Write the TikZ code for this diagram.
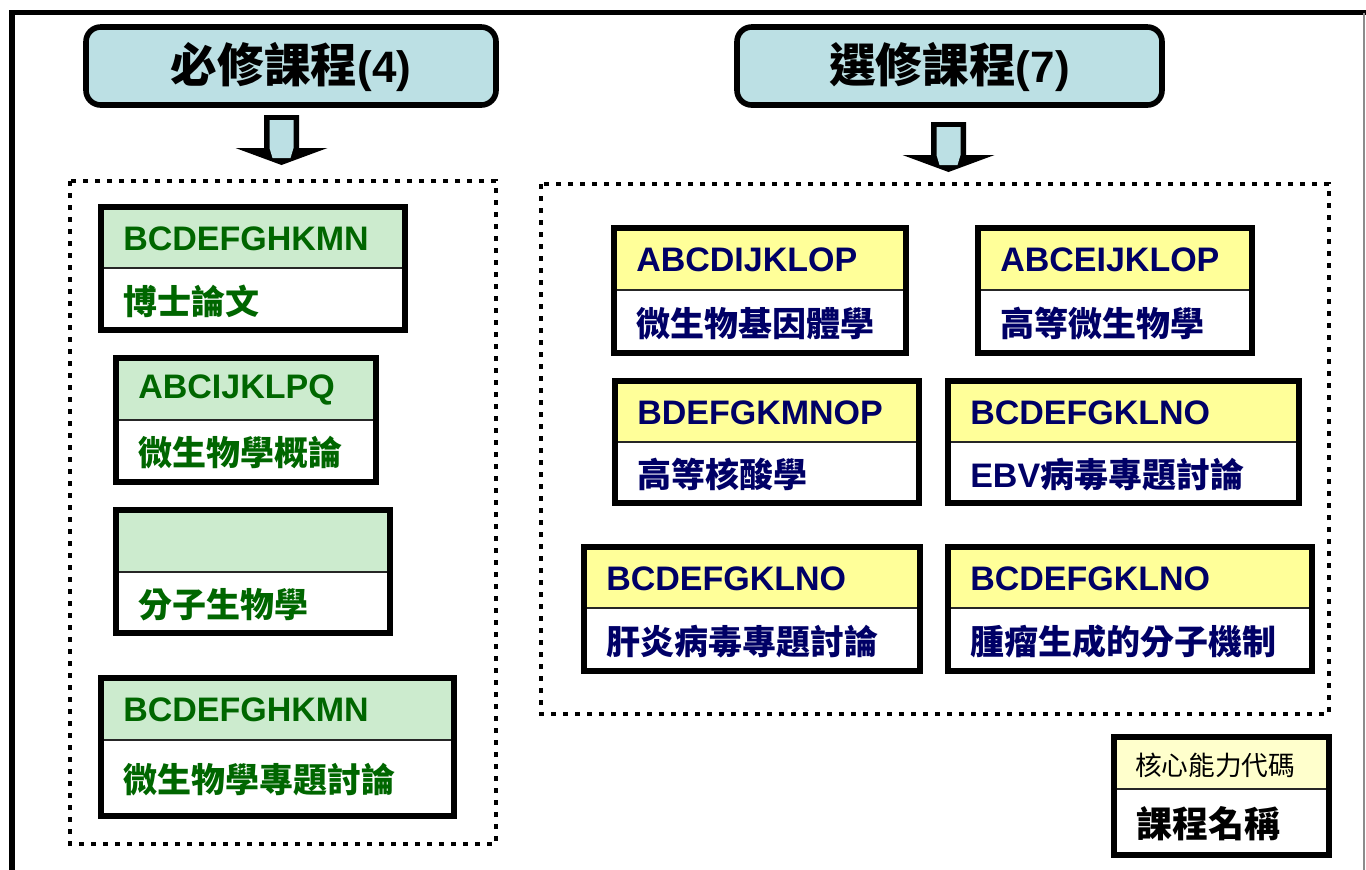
\documentclass[tikz,border=0pt]{standalone}
\usepackage{fontspec}
\setmainfont{Liberation Sans}
\newfontfamily\zhfont{Noto Sans CJK TC}
\definecolor{hdrfill}{RGB}{188,224,228}
\definecolor{grnfill}{RGB}{204,235,206}
\definecolor{grntext}{RGB}{0,102,0}
\definecolor{ylwfill}{RGB}{255,255,153}
\definecolor{navytext}{RGB}{0,0,102}
\definecolor{lgdfill}{RGB}{255,255,204}
\tikzset{
  boxline/.style={line width=4.2pt, draw=black},
  divider/.style={line width=1.7pt, draw=black!85},
  dotbox/.style={line width=3.4pt, dash pattern=on 3.4pt off 5.6pt},
  hdr/.style={draw=black, line width=4.2pt, fill=hdrfill, rounded corners=11pt},
  arrowouter/.style={fill=black},
  arrowinner/.style={fill=hdrfill},
  codetxt/.style={anchor=west, inner sep=0pt, font=\bfseries\fontsize{25.5}{30}\selectfont},
  nametxt/.style={anchor=west, inner sep=0pt, font=\zhfont\bfseries\fontsize{25.5}{30}\selectfont},
  hdrtxt/.style={inner sep=0pt, font=\zhfont\bfseries\fontsize{35}{40}\selectfont},
  g-fill/.style={fill=grnfill}, g-text/.style={text=grntext},
  y-fill/.style={fill=ylwfill}, y-text/.style={text=navytext},
}
% #1 prefix, #2 name, #3 x1, #4 y1, #5 x2, #6 y2, #7 ydiv, #8 code, #9 title
\newcommand\coursebox[9]{%
  \fill[#1-fill] (#3,#4) rectangle (#5,#7);
  \draw[divider] (#3,#7) -- (#5,#7);
  \draw[boxline] (#3,#4) rectangle (#5,#6);
  \node[codetxt,#1-text] (#2code) at ({#3+22},{(#4+#7)/2+1}) {#8};
  \node[nametxt,#1-text] (#2name) at ({#3+22},{(#7+#6)/2+2}) {#9};
}
% block arrow: #1 top-centre coordinate
\newcommand\blockarrow[1]{%
  \fill[arrowouter] (#1) ++(-17.5,0) -- ++(35,0) -- ++(0,33) -- ++(28.5,0) -- ++(-46,17) -- ++(-46,-17) -- ++(28.5,0) -- cycle;
  \fill[arrowinner] (#1) ++(-12,5) -- ++(24,0) -- ++(0,28) -- ++(-3,10) -- ++(-18,0) -- ++(-3,-10) -- cycle;
}
\begin{document}
\begin{tikzpicture}[x=0.75pt,y=-0.75pt]
\useasboundingbox (0,0) rectangle (1366,869);
% outer frame
\draw[line width=4.2pt] (12,880) -- (12,12.5) -- (1380,12.5);
\draw[black!45, line width=0.9pt] (1364,12.5) -- (1364,880);
% headers
\draw[hdr] (86,27) rectangle (496,105);
\node[hdrtxt] (hreq) at (291,67) {必修課程{\normalfont\bfseries\fontsize{33}{40}\selectfont(4)}};
\draw[hdr] (737,27) rectangle (1162,105);
\node[hdrtxt] (hele) at (949.5,67) {選修課程{\normalfont\bfseries\fontsize{33}{40}\selectfont(7)}};
% arrows
\coordinate (a1) at (281.5,115);
\coordinate (a2) at (948.5,122);
\blockarrow{a1}
\blockarrow{a2}
% dotted group boxes
\draw[dotbox] (70,181) rectangle (496,844);
\draw[dotbox] (541,184) rectangle (1329,714);
% required courses
\coursebox{g}{r1}{101}{207}{405}{330}{268}{BCDEFGHKMN}{博士論文}
\coursebox{g}{r2}{116}{358}{376}{482}{420}{ABCIJKLPQ}{微生物學概論}
\coursebox{g}{r3}{116}{510}{390}{633}{572}{}{分子生物學}
\coursebox{g}{r4}{101}{678}{454}{816}{740}{BCDEFGHKMN}{微生物學專題討論}
% elective courses
\coursebox{y}{e1}{614}{228}{906}{353}{290}{ABCDIJKLOP}{微生物基因體學}
\coursebox{y}{e2}{978}{228}{1252}{353}{290}{ABCEIJKLOP}{高等微生物學}
\coursebox{y}{e3}{615}{381}{919}{503}{442}{BDEFGKMNOP}{高等核酸學}
\coursebox{y}{e4}{948}{381}{1299}{503}{442}{BCDEFGKLNO}{{\normalfont\bfseries EBV}病毒專題討論}
\coursebox{y}{e5}{584}{547}{920}{671}{608}{BCDEFGKLNO}{肝炎病毒專題討論}
\coursebox{y}{e6}{948}{547}{1312}{671}{608}{BCDEFGKLNO}{腫瘤生成的分子機制}
% legend
\fill[lgdfill] (1114,737) rectangle (1329,789);
\draw[divider] (1114,789) -- (1329,789);
\draw[boxline] (1114,737) rectangle (1329,855);
\node[anchor=west, inner sep=0pt, font=\zhfont\fontsize{20}{24}\selectfont] (lcode) at (1135,765) {核心能力代碼};
\node[anchor=west, inner sep=0pt, font=\zhfont\bfseries\fontsize{27}{32}\selectfont] (lname) at (1136,824) {課程名稱};
\end{tikzpicture}
\end{document}
